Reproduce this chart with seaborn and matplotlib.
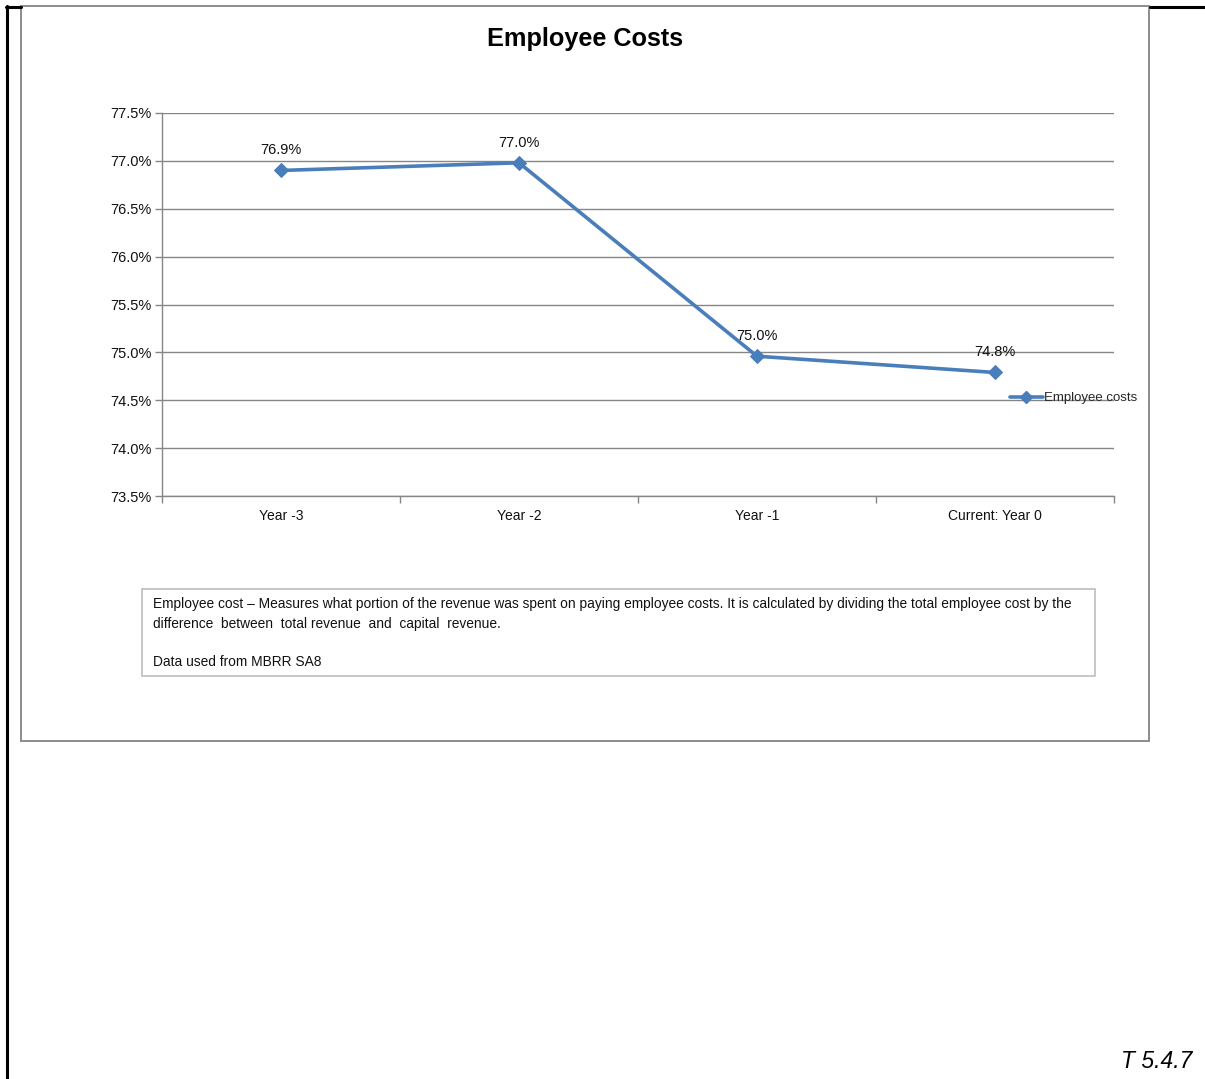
import matplotlib
matplotlib.use("Agg")
import matplotlib.pyplot as plt
from matplotlib.lines import Line2D
from matplotlib.patches import Rectangle
from matplotlib.ticker import FixedLocator, PercentFormatter
import seaborn as sns
import pandas as pd

# Employee cost as a share of operating revenue
years = ["Year -3", "Year -2", "Year -1", "Current: Year 0"]
employee_cost_pct = [76.9, 76.98, 74.96, 74.79]
value_labels = ["76.9%", "77.0%", "75.0%", "74.8%"]
y_ticks = [73.5, 74.0, 74.5, 75.0, 75.5, 76.0, 76.5, 77.0, 77.5]

note_lines = [
    "Employee cost \u2013 Measures what portion of the revenue was spent on paying employee costs. It is calculated by dividing the total employee cost by the",
    "difference  between  total revenue  and  capital  revenue.",
    "Data used from MBRR SA8",
]

W, H = 1205, 1079
LINE_BLUE = "#4A7EBB"
GRID = "#868686"
TXT = "#111111"

sns.set_theme(style="white")
plt.rcParams["font.family"] = ["Liberation Sans", "DejaVu Sans"]

df = pd.DataFrame({"year": years, "pct": employee_cost_pct, "series": "Employee costs"})
df["pos"] = range(len(years))

fig = plt.figure(figsize=(W / 100, H / 100), dpi=100)
fig.patch.set_facecolor("white")

def fx(px):
    return px / W

def fy(py):
    return 1 - py / H

# page borders (black) and chart area border (gray)
fig.add_artist(Line2D([fx(7), fx(7)], [fy(6), fy(1079)], color="black", lw=2.2))
fig.add_artist(Line2D([fx(6), fx(21)], [fy(6.5), fy(6.5)], color="black", lw=2.2))
fig.add_artist(Line2D([fx(1150), fx(1205)], [fy(6.5), fy(6.5)], color="black", lw=2.2))
fig.add_artist(Rectangle((fx(21), fy(741)), fx(1149) - fx(21), fy(6) - fy(741),
                         transform=fig.transFigure, fill=False, ec="#8C8C8C", lw=1.4))

ax = fig.add_axes([fx(162), fy(496), fx(1114) - fx(162), fy(113) - fy(496)])

sns.lineplot(data=df, x="pos", y="pct", hue="series", palette=[LINE_BLUE],
             marker="D", markersize=7, markeredgecolor=LINE_BLUE, linewidth=2.6,
             ax=ax, legend=False, zorder=3)

ax.set_xlim(-0.5, len(years) - 0.5)
ax.set_ylim(y_ticks[0], y_ticks[-1])
ax.set_xlabel("")
ax.set_ylabel("")

ax.yaxis.set_major_locator(FixedLocator(y_ticks))
ax.yaxis.set_major_formatter(PercentFormatter(decimals=1))
ax.grid(axis="y", color=GRID, lw=1.0)
ax.grid(axis="x", visible=False)

ax.set_xticks(range(len(years)))
ax.set_xticklabels(years)
ax.set_xticks([i - 0.5 for i in range(len(years) + 1)], minor=True)
ax.tick_params(axis="x", which="major", length=0, pad=9, labelsize=10, labelcolor=TXT)
ax.tick_params(axis="x", which="minor", length=5, width=1, color=GRID, direction="out", bottom=True)
ax.tick_params(axis="y", which="major", length=5, width=1, color=GRID, direction="out",
               left=True, pad=2.5, labelsize=10.5, labelcolor=TXT)

for side in ["top", "right"]:
    ax.spines[side].set_visible(False)
for side in ["left", "bottom"]:
    ax.spines[side].set_color(GRID)
    ax.spines[side].set_linewidth(1.0)

for x, y, lab in zip(df["pos"], employee_cost_pct, value_labels):
    ax.annotate(lab, (x, y), xytext=(0, 14.5), textcoords="offset points",
                ha="center", va="center", fontsize=10.5, color=TXT)

# legend entry to the right of the plot
handle = Line2D([], [], color=LINE_BLUE, lw=2.6, marker="D", markersize=6)
fig.legend([handle], ["Employee costs"], loc="center left",
           bbox_to_anchor=(fx(1010), fy(398)), bbox_transform=fig.transFigure,
           frameon=False, fontsize=9.5, handlelength=2.5, handletextpad=0.1,
           borderpad=0, borderaxespad=0)

fig.text(fx(585), fy(39), "Employee Costs", ha="center", va="center",
         fontsize=18.2, fontweight="bold", color="black")

# explanatory note box
fig.add_artist(Rectangle((fx(142), fy(676)), fx(1095) - fx(142), fy(589) - fy(676),
                         transform=fig.transFigure, fill=False, ec="#BEBEBE", lw=1.2))
for text, ypx in zip(note_lines, [604, 624, 662]):
    fig.text(fx(153), fy(ypx), text, ha="left", va="center", fontsize=9.9, color=TXT)

fig.text(fx(1192), fy(1062), "T 5.4.7", ha="right", va="center", fontsize=16.5,
         fontstyle="italic", color="black")

fig.savefig("out.png", dpi=100, facecolor="white")
